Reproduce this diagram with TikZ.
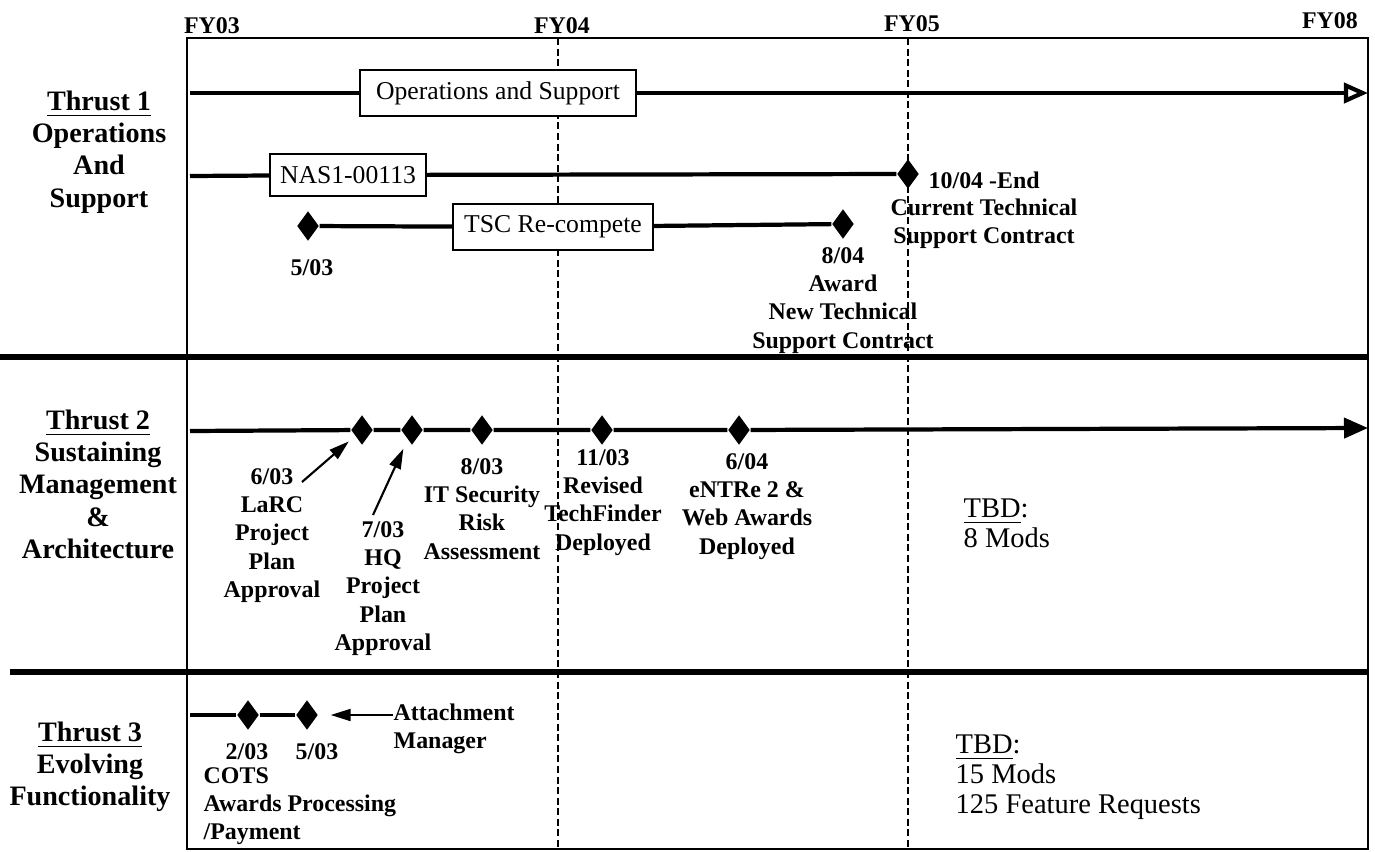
\documentclass[tikz,border=0pt]{standalone}
\usepackage{fontspec}
\setmainfont{Liberation Serif}
\usetikzlibrary{positioning, arrows.meta, shapes.geometric}

\begin{document}
\begin{tikzpicture}[
  x=0.01cm, y=-0.01cm,
  thrust/.style={font=\bfseries\fontsize{8}{9.2}\selectfont, align=center, inner sep=0pt, anchor=north},
  year/.style={font=\bfseries\fontsize{6.8}{8}\selectfont, inner sep=0pt},
  bar/.style={draw, line width=0.6pt, fill=white, font=\fontsize{7.3}{8}\selectfont, minimum height=0.42cm, inner xsep=0pt},
  milestone/.style={diamond, fill=black, inner sep=0pt, minimum width=0.22cm, minimum height=0.3cm},
  note/.style={font=\bfseries\fontsize{6.8}{8}\selectfont, align=center, inner sep=0pt, anchor=north},
  tbd/.style={font=\fontsize{8.1}{8.6}\selectfont, align=left, inner sep=0pt, anchor=north west},
  track/.style={line width=1.2pt},
  sep/.style={line width=1.8pt},
  fy/.style={dash pattern=on 2pt off 1pt, line width=0.4pt},
  arr/.style={-{Triangle[length=0.2cm, width=0.12cm]}, line width=0.6pt},
]
\useasboundingbox (0,0) rectangle (1375,851);

% frame and year marks
\draw[line width=0.6pt] (187,849) -- (187,38) -- (1368,38) -- (1368,849) -- cycle;
\draw[fy] (558,38) -- (558,849);
\draw[fy] (908,38) -- (908,849);
\node[year] (fy03) at (212,26) {FY03};
\node[year] (fy04) at (562,26) {FY04};
\node[year] (fy05) at (912,24) {FY05};
\node[year] (fy08) at (1330,21) {FY08};

\draw[sep] (0,357) -- (1368,357);
\draw[sep] (10,672) -- (1368,672);

% Thrust 1
\node[thrust] (th1) at (99,90) {\underline{Thrust 1}\\Operations\\And\\Support};

\node[bar, minimum width=2.75cm] (ops) at (498,93) {Operations and Support};
\node[bar, minimum width=1.56cm] (nas) at (348,175) {NAS1-00113};
\node[bar, minimum width=2.0cm] (tsc) at (553,227) {TSC Re-compete};

\node[milestone] (m11) at (908,174) {};
\node[milestone] (m12) at (308,226) {};
\node[milestone] (m13) at (843,224) {};

\coordinate (ops-in) at (190,93);
\coordinate (ops-out) at (1368,93);
\coordinate (nas-in) at (190,176);

\draw[track] (ops-in) -- (ops);
\draw[track, -{Triangle[open, length=0.24cm, width=0.2cm]}] (ops) -- (ops-out);
\draw[track] (nas-in) -- (nas) -- (m11);
\draw[track] (m12) -- (tsc) -- (m13);

\node[note] (l12) at (312,259) {5/03};
\node[note] (l13) at (843,247) {8/04\\Award\\New Technical\\Support Contract};
\node[note, anchor=west] (l11) at (928,180) {10/04 -End};
\node[note] (l11b) at (984,198) {Current Technical\\Support Contract};

% Thrust 2
\node[thrust] (th2) at (98,409) {\underline{Thrust 2}\\Sustaining\\Management\\\&\\Architecture};

\node[milestone] (m21) at (362,430) {};
\node[milestone] (m22) at (412,430) {};
\node[milestone] (m23) at (482,430) {};
\node[milestone] (m24) at (602,430) {};
\node[milestone] (m25) at (739,430) {};

\coordinate (t2-in) at (190,431);
\coordinate (t2-out) at (1368,428);
\draw[track] (t2-in) -- (m21) -- (m22) -- (m23) -- (m24) -- (m25);
\draw[track, -{Triangle[length=0.24cm, width=0.2cm]}] (m25) -- (t2-out);

\node[note] (l21) at (272,468) {6/03\\LaRC\\Project\\Plan\\Approval};
\node[note] (l22) at (383,521) {7/03\\HQ\\Project\\Plan\\Approval};
\node[note] (l23) at (482,458) {8/03\\IT Security\\Risk\\Assessment};
\node[note] (l24) at (603,449) {11/03\\Revised\\TechFinder\\Deployed};
\node[note] (l25) at (747,453) {6/04\\eNTRe 2 \&\\Web Awards\\Deployed};

\coordinate (p21) at (302,482);
\coordinate (p22) at (373,515);
\draw[arr, shorten >=0.08cm] (p21) -- (m21);
\draw[arr, shorten >=0.1cm] (p22) -- (m22);

\node[tbd] (tbd2) at (963,498) {\underline{TBD}:\\8 Mods};

% Thrust 3
\node[thrust] (th3) at (90,721) {\underline{Thrust 3}\\Evolving\\Functionality};

\node[milestone] (m31) at (248,715) {};
\node[milestone] (m32) at (307,715) {};
\coordinate (t3-in) at (190,715);
\draw[track] (t3-in) -- (m31) -- (m32);

\node[note, anchor=center] (l31) at (247,752) {2/03};
\node[note, anchor=center] (l32) at (317,752) {5/03};
\node[note, anchor=north west, align=left] (l33) at (203,767) {COTS\\Awards Processing\\/Payment};
\node[note, anchor=north west, align=left] (att) at (393,703) {Attachment\\Manager};
\draw[arr, shorten >=0.12cm] (att.west |- m32) -- (m32);

\node[tbd] (tbd3) at (955,734) {\underline{TBD}:\\15 Mods\\125 Feature Requests};

\end{tikzpicture}
\end{document}
